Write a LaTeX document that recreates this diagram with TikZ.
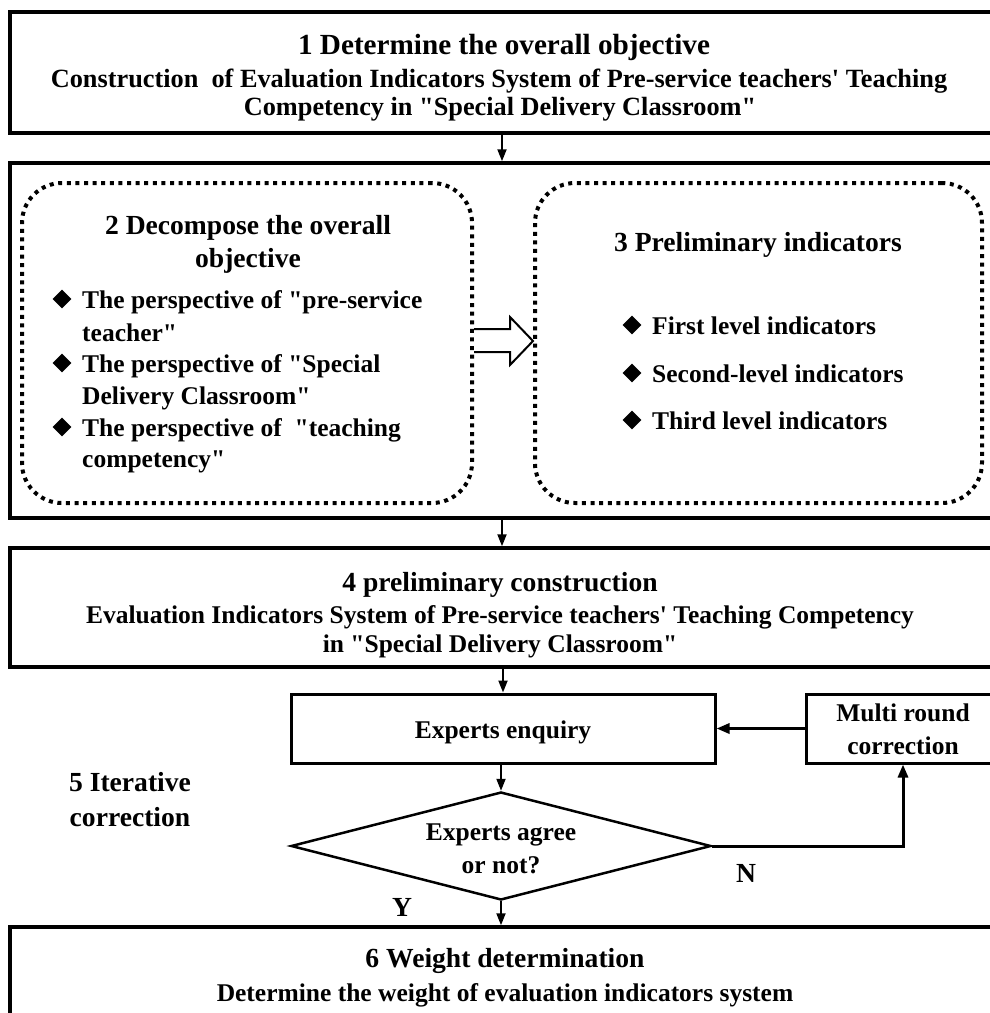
\documentclass[tikz,border=0pt]{standalone}
\usepackage{fontspec}
\setmainfont{Liberation Serif}[Ligatures=TeXOff]
\usetikzlibrary{arrows.meta,shapes.geometric}
\begin{document}
\begin{tikzpicture}[x=1pt,y=-1pt,
  frame/.style={draw, line width=3.5pt, inner sep=0pt, minimum width=985pt},
  dotbox/.style={draw, line width=4pt, dash pattern=on 4pt off 4.6pt, rounded corners=40pt, inner sep=0pt, minimum width=448pt, minimum height=320pt},
  smallbox/.style={draw, line width=3pt, inner sep=0pt, minimum height=69pt},
  head/.style={font=\bfseries\fontsize{27.6}{32}\selectfont, inner sep=0pt, text height=0.85em, text depth=0.15em, yshift=-6pt},
  body/.style={font=\bfseries\fontsize{25.5}{30}\selectfont, inner sep=0pt, text height=0.85em, text depth=0.15em, yshift=-6pt},
  bodyl/.style={body, anchor=west},
  bul/.style={draw=none, fill=black, diamond, inner sep=0pt, minimum width=19pt, minimum height=19pt},
  arr/.style={line width=2pt, -{Triangle[length=12pt,width=9pt]}},
  arrthick/.style={line width=3pt, -{Triangle[length=13pt,width=10pt]}}]
\useasboundingbox (0,0) rectangle (989,1013);
\fill[white] (0,0) rectangle (989,1013);

% frames
\node[frame, minimum height=121pt] (box1) at (502.5,72.5) {};
\node[frame, minimum height=355pt] (box2) at (502.5,340.5) {};
\node[frame, minimum height=119pt] (box4) at (502.5,607.5) {};
\node[frame, minimum height=98pt] (box6) at (502.5,976) {};

% box 1 text
\node[head, font=\bfseries\fontsize{29.2}{32}\selectfont] (t1a) at (504,45) {1 Determine the overall objective};
\node[body, font=\bfseries\fontsize{26.3}{30}\selectfont] (t1b) at (499,78) {Construction\ \ of Evaluation Indicators System of Pre-service teachers' Teaching};
\node[body, font=\bfseries\fontsize{26.3}{30}\selectfont] (t1c) at (500,106) {Competency in "Special Delivery Classroom"};

% dotted boxes
\node[dotbox, minimum width=450pt] (left) at (247,343) {};
\node[dotbox, minimum width=447pt] (right) at (758.5,343) {};

\node[head] (t2a) at (248,225) {2 Decompose the overall};
\node[head] (t2b) at (248,258) {objective};
\node[bul] (d2a) at (62,299) {};
\node[bodyl] (t2c) at (82,299) {The perspective of "pre-service};
\node[bodyl] (t2d) at (82,332) {teacher"};
\node[bul] (d2b) at (62,363) {};
\node[bodyl] (t2e) at (82,363) {The perspective of "Special};
\node[bodyl] (t2f) at (82,395) {Delivery Classroom"};
\node[bul] (d2c) at (62,427) {};
\node[bodyl] (t2g) at (82,427) {The perspective of\ \ "teaching};
\node[bodyl] (t2h) at (82,458) {competency"};

\node[head] (t3a) at (758,242) {3 Preliminary indicators};
\node[bul] (d3a) at (632,325) {};
\node[bodyl] (t3b) at (652,325) {First level indicators};
\node[bul] (d3b) at (632,373) {};
\node[bodyl] (t3c) at (652,373) {Second-level indicators};
\node[bul] (d3c) at (632,420) {};
\node[bodyl] (t3d) at (652,420) {Third level indicators};

% open arrow between dotted boxes
\draw[line width=2pt, line join=miter, fill=white]
  (left.east |- 0,329) -- (510,329) -- (510,317) -- (right.west |- 0,341)
  -- (510,365) -- (510,352) -- (left.east |- 0,352);

% box 4 text
\node[head] (t4a) at (500,582) {4 preliminary construction};
\node[body] (t4b) at (500,614) {Evaluation Indicators System of Pre-service teachers' Teaching Competency};
\node[body] (t4c) at (500,643) {in "Special Delivery Classroom"};

% step 5
\node[smallbox, minimum width=424pt] (enq) at (503,728.5) {};
\node[body] (tenq) at (503,729) {Experts enquiry};
\node[smallbox, minimum width=194pt] (multi) at (903,728.5) {};
\node[body] (tm1) at (903,712) {Multi round};
\node[body] (tm2) at (903,745) {correction};
\node[diamond, draw, line width=2.5pt, inner sep=0pt, minimum width=420pt, minimum height=108pt] (dia) at (501,846) {};
\node[body] (td1) at (501,831) {Experts agree};
\node[body] (td2) at (501,864) {or not?};
\node[head] (t5a) at (130,782) {5 Iterative};
\node[head] (t5b) at (130,817) {correction};
\node[head] (tN) at (746,873) {N};
\node[head] (tY) at (402,907) {Y};

% box 6 text
\node[head] (t6a) at (505,958) {6 Weight determination};
\node[body] (t6b) at (505,992) {Determine the weight of evaluation indicators system};

% connectors
\draw[arr] (box1.south -| 502,0) -- (box2.north -| 502,0);
\draw[arr] (box2.south -| 502,0) -- (box4.north -| 502,0);
\draw[arr] (enq.north |- box4.south) -- (enq.north);
\draw[arr] (enq.south -| dia.north) -- (dia.north);
\draw[arr] (dia.south) -- (box6.north -| dia.south);
\draw[arrthick] (multi.west) -- (enq.east);
\draw[arrthick] (dia.east) -- (multi.south |- dia.east) -- (multi.south);
\end{tikzpicture}
\end{document}
